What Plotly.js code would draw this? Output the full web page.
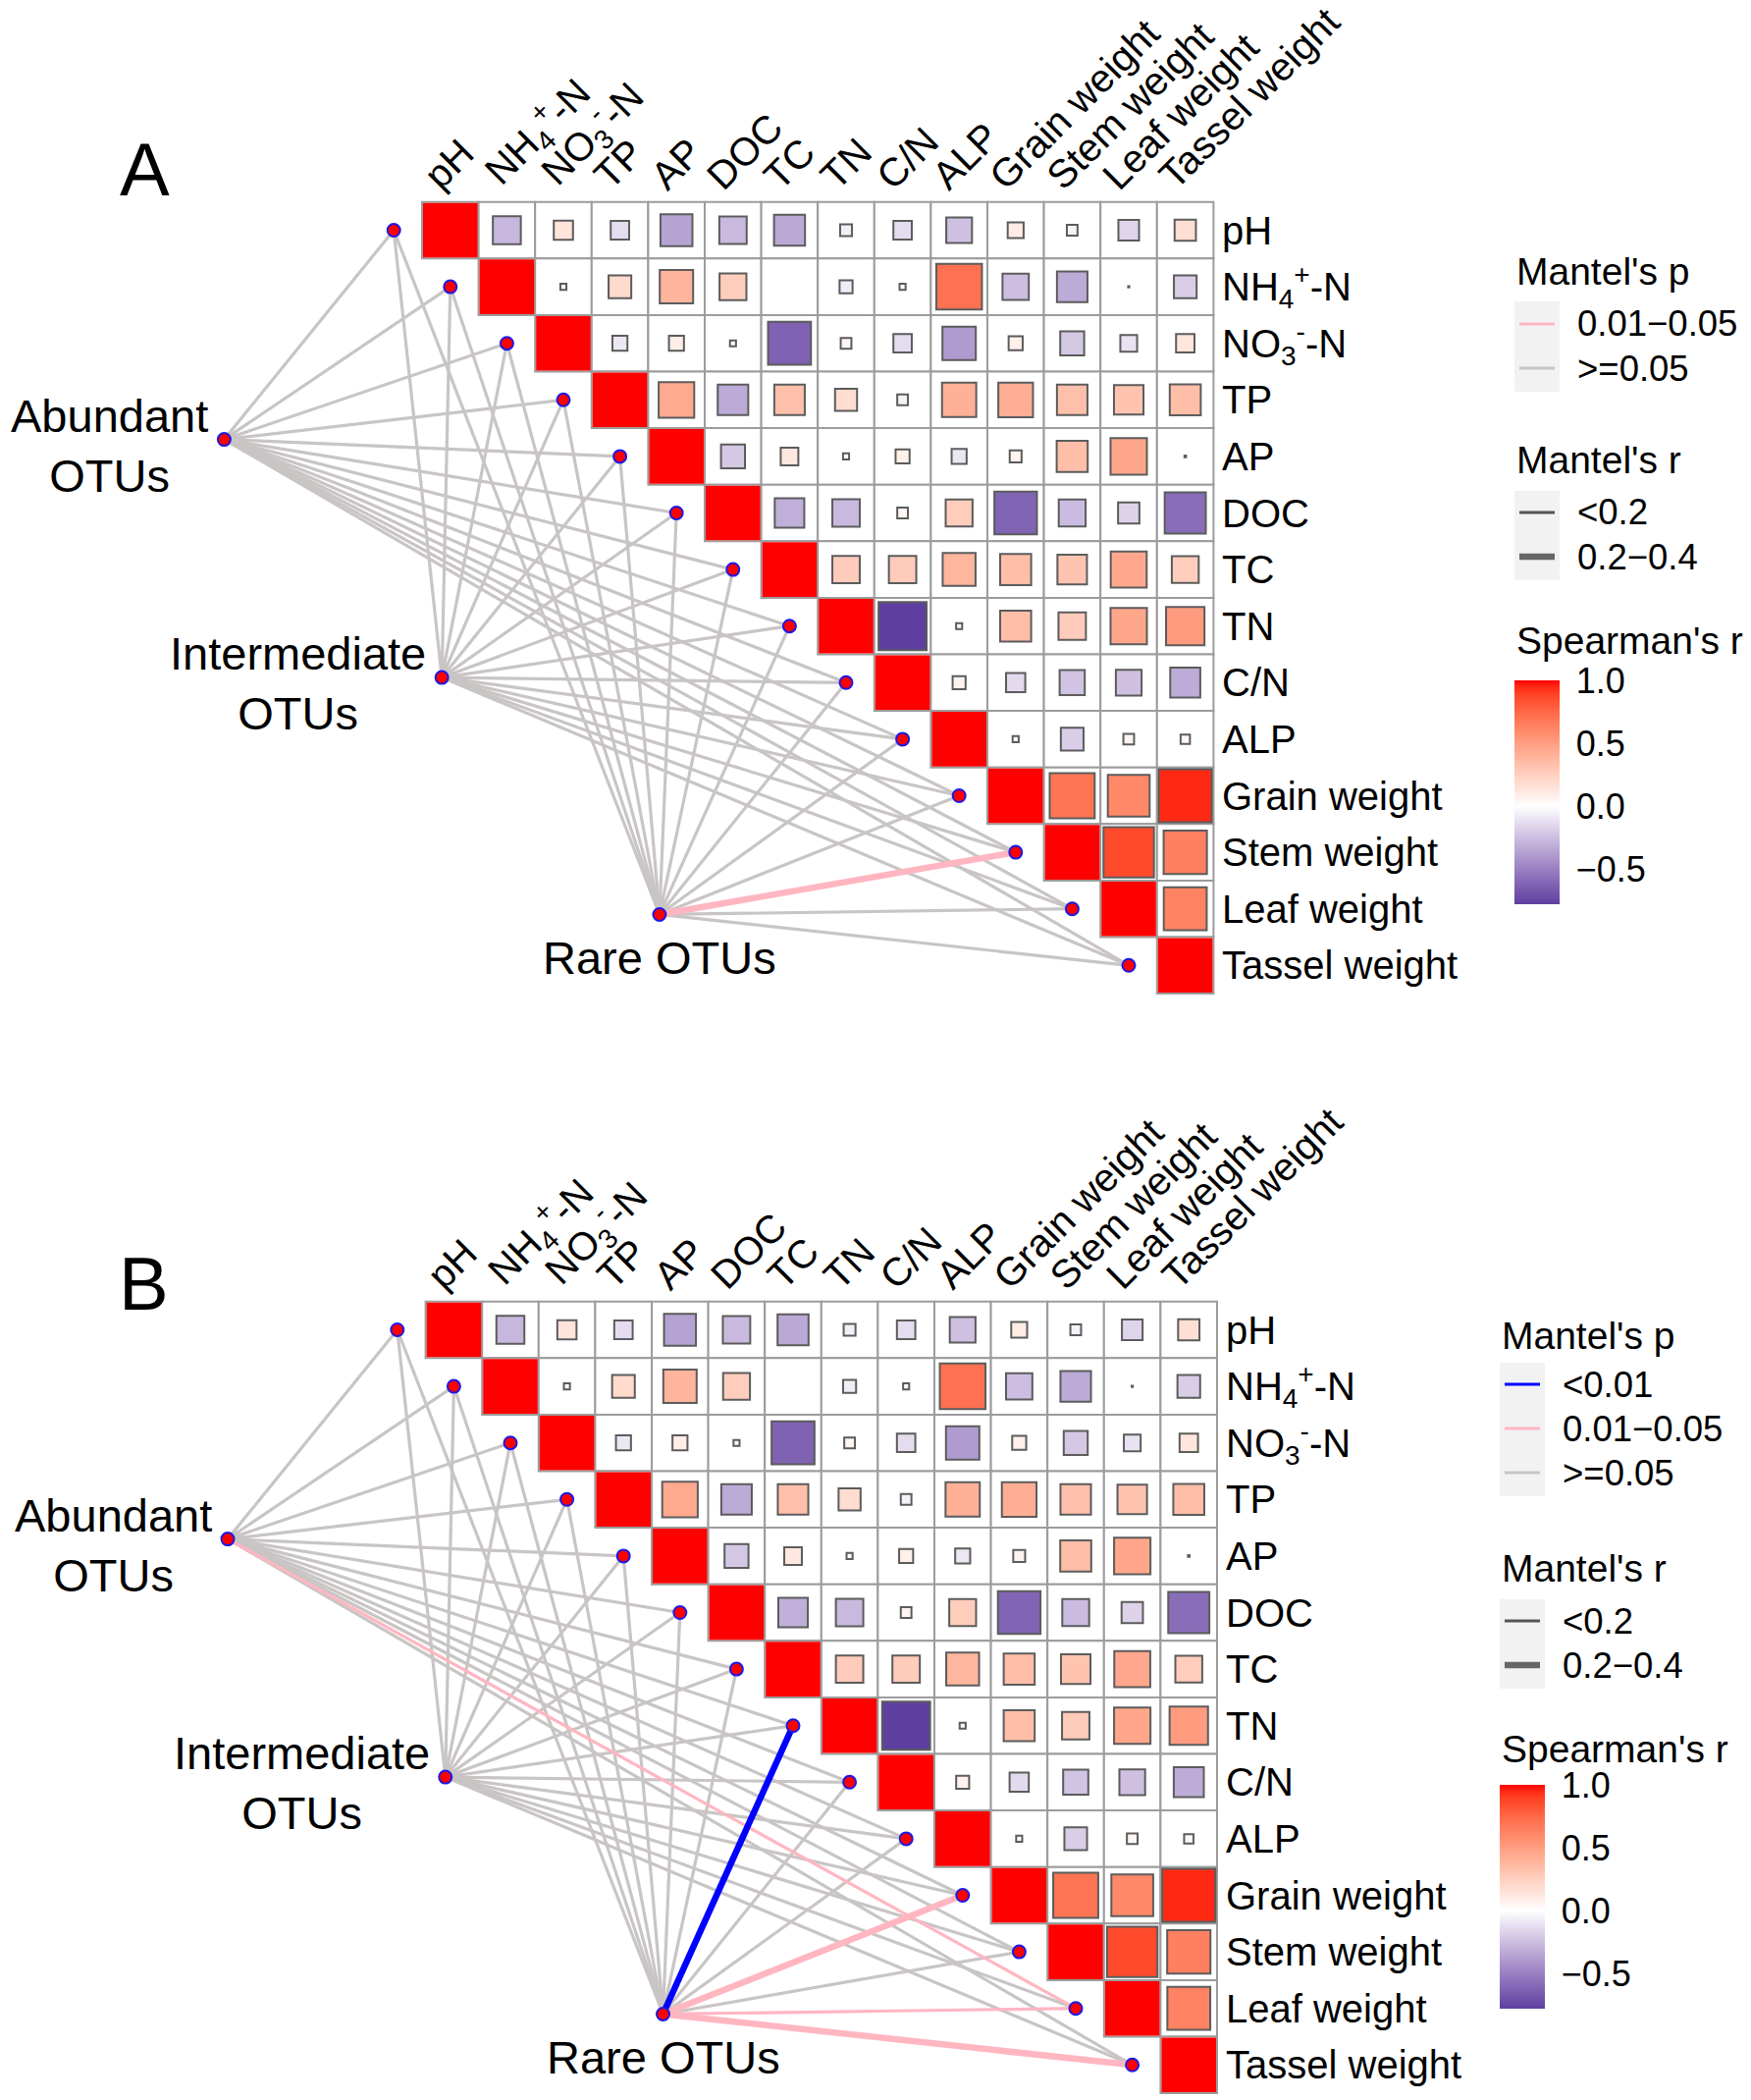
<!DOCTYPE html>
<html><head><meta charset="utf-8">
<script src="https://cdn.plot.ly/plotly-3.0.1.min.js"></script>
<style>html,body{margin:0;padding:0;background:#fff}#chart{width:1784px;height:2139px}</style>
</head><body><div id="chart"></div>
<script>
// ================= DATA =================
const envVars = ['pH','NH4+-N','NO3--N','TP','AP','DOC','TC','TN','C/N','ALP','Grain weight','Stem weight','Leaf weight','Tassel weight'];
const envTickLabels = ['pH','NH<sub>4</sub><sup>+</sup>-N','NO<sub>3</sub><sup>-</sup>-N','TP','AP','DOC','TC','TN','C/N','ALP','Grain weight','Stem weight','Leaf weight','Tassel weight'];
const speciesGroups = ['Abundant<br>OTUs','Intermediate<br>OTUs','Rare OTUs'];
const panelLetters = ['A','B'];

// Spearman's r (upper triangle): each row vs. the variables that follow it
const r_pH     = [-0.28, 0.14, -0.13, -0.36, -0.27, -0.34, -0.06, -0.13, -0.24, 0.10, -0.05, -0.16, 0.17];
const r_NH4    = [0.02, 0.19, 0.39, 0.26, 0.00, -0.07, 0.02, 0.71, -0.25, -0.33, -0.003, -0.19];
const r_NO3    = [-0.09, 0.09, 0.02, -0.63, 0.05, -0.13, -0.39, 0.08, -0.21, -0.11, 0.13];
const r_TP     = [0.44, -0.33, 0.33, 0.18, -0.05, 0.41, 0.42, 0.33, 0.31, 0.34];
const r_AP     = [-0.21, 0.12, 0.02, 0.08, -0.09, 0.06, 0.34, 0.46, 0.004];
const r_DOC    = [-0.31, -0.27, 0.05, 0.26, -0.62, -0.26, -0.17, -0.58];
const r_TC     = [0.27, 0.27, 0.38, 0.34, 0.31, 0.45, 0.26];
const r_TN     = [-0.78, 0.02, 0.34, 0.27, 0.46, 0.51];
const r_CN     = [0.07, -0.14, -0.23, -0.24, -0.32];
const r_ALP    = [0.02, -0.19, 0.05, 0.04];
const r_Grain  = [0.69, 0.60, 0.95];
const r_Stem   = [0.86, 0.64];
const r_Leaf   = [0.63];
const r_Tassel = [];
const spearmanRows = [r_pH, r_NH4, r_NO3, r_TP, r_AP, r_DOC, r_TC, r_TN, r_CN, r_ALP, r_Grain, r_Stem, r_Leaf, r_Tassel];

// Mantel test classes, per OTU group, order = envVars
// Panel A
const mantelP_A_abundant = ['>=0.05','>=0.05','>=0.05','>=0.05','>=0.05','>=0.05','>=0.05','>=0.05','>=0.05','>=0.05','>=0.05','>=0.05','>=0.05','>=0.05'];
const mantelR_A_abundant = ['<0.2','<0.2','<0.2','<0.2','<0.2','<0.2','<0.2','<0.2','<0.2','<0.2','<0.2','<0.2','<0.2','<0.2'];
const mantelP_A_intermediate = ['>=0.05','>=0.05','>=0.05','>=0.05','>=0.05','>=0.05','>=0.05','>=0.05','>=0.05','>=0.05','>=0.05','>=0.05','>=0.05','>=0.05'];
const mantelR_A_intermediate = ['<0.2','<0.2','<0.2','<0.2','<0.2','<0.2','<0.2','<0.2','<0.2','<0.2','<0.2','<0.2','<0.2','<0.2'];
const mantelP_A_rare = ['>=0.05','>=0.05','>=0.05','>=0.05','>=0.05','>=0.05','>=0.05','>=0.05','>=0.05','>=0.05','>=0.05','0.01-0.05','>=0.05','>=0.05'];
const mantelR_A_rare = ['<0.2','<0.2','<0.2','<0.2','<0.2','<0.2','<0.2','<0.2','<0.2','<0.2','<0.2','0.2-0.4','<0.2','<0.2'];
// Panel B
const mantelP_B_abundant = ['>=0.05','>=0.05','>=0.05','>=0.05','>=0.05','>=0.05','>=0.05','>=0.05','>=0.05','>=0.05','>=0.05','>=0.05','0.01-0.05','>=0.05'];
const mantelR_B_abundant = ['<0.2','<0.2','<0.2','<0.2','<0.2','<0.2','<0.2','<0.2','<0.2','<0.2','<0.2','<0.2','<0.2','<0.2'];
const mantelP_B_intermediate = ['>=0.05','>=0.05','>=0.05','>=0.05','>=0.05','>=0.05','>=0.05','>=0.05','>=0.05','>=0.05','>=0.05','>=0.05','>=0.05','>=0.05'];
const mantelR_B_intermediate = ['<0.2','<0.2','<0.2','<0.2','<0.2','<0.2','<0.2','<0.2','<0.2','<0.2','<0.2','<0.2','<0.2','<0.2'];
const mantelP_B_rare = ['>=0.05','>=0.05','>=0.05','>=0.05','>=0.05','>=0.05','>=0.05','<0.01','>=0.05','>=0.05','0.01-0.05','>=0.05','0.01-0.05','0.01-0.05'];
const mantelR_B_rare = ['<0.2','<0.2','<0.2','<0.2','<0.2','<0.2','<0.2','0.2-0.4','<0.2','<0.2','0.2-0.4','<0.2','<0.2','0.2-0.4'];

const pClasses = ['<0.01','0.01-0.05','>=0.05'];
const pClassLabels = ['<0.01','0.01\u22120.05','>=0.05'];
const rClasses = ['<0.2','0.2-0.4'];
const rClassLabels = ['<0.2','0.2\u22120.4'];
const cbTickVals = [-0.5, 0, 0.5, 1];
const cbTickText = ['\u22120.5','0.0','0.5','1.0'];

// ================= STYLE / LAYOUT =================
const W = 1784, H = 2139, CELL = 57.6;
const FONT = 'Liberation Sans, Arial, Helvetica, sans-serif';
const CMIN = -0.78, CMAX = 1;
const LOW = '#5E3FA0', MID = '#FFFFFF', HIGH = '#FF0000';
const pColor = {'<0.01':'#0000FF','0.01-0.05':'#FFB6C1','>=0.05':'#C9C5C5'};
const rWidth = {'<0.2':3.2,'0.2-0.4':6.5};
const rLegendColor = {'<0.2':'#555555','0.2-0.4':'#666666'};
const rLegendWidth = {'<0.2':3,'0.2-0.4':6.5};
const nodePos = [[-4.0, 3.7], [-0.15, 7.91], [3.7, 12.1]];

const panels = [
  {xa:'x', ya:'y', xk:'xaxis', yk:'yaxis', gridLeft:430, gridTop:205.7, dom:[0.5,1],
   P:[mantelP_A_abundant, mantelP_A_intermediate, mantelP_A_rare],
   R:[mantelR_A_abundant, mantelR_A_intermediate, mantelR_A_rare],
   letter:[147,172],
   leg:{x:1543, pTitle:276, pBox:[307,399], pRow0:330, rTitle:468, rBox:[500,591], rRow0:522, sTitle:652, cbTop:693}},
  {xa:'x2', ya:'y2', xk:'xaxis2', yk:'yaxis2', gridLeft:433.6, gridTop:1325.7, dom:[0,0.5],
   P:[mantelP_B_abundant, mantelP_B_intermediate, mantelP_B_rare],
   R:[mantelR_B_abundant, mantelR_B_intermediate, mantelR_B_rare],
   letter:[146,1307],
   leg:{x:1528, pTitle:1360, pBox:[1388,1524], pRow0:1410, rTitle:1597, rBox:[1629,1720], rRow0:1651, sTitle:1781, cbTop:1818}}
];
const ROWSTEP = 45;

// ---------- colour helpers (Lab interpolation like ggplot gradient2) ----------
function hex2rgb(h){h=h.replace('#','');return [0,2,4].map(i=>parseInt(h.substr(i,2),16));}
function lin(c){c/=255;return c<=0.04045?c/12.92:Math.pow((c+0.055)/1.055,2.4);}
function unlin(c){const v=c<=0.0031308?12.92*c:1.055*Math.pow(c,1/2.4)-0.055;return Math.round(Math.max(0,Math.min(1,v))*255);}
function rgb2lab(rgb){
  const [R,G,B]=rgb.map(lin);
  const X=(0.4124*R+0.3576*G+0.1805*B)/0.95047, Y=(0.2126*R+0.7152*G+0.0722*B), Z=(0.0193*R+0.1192*G+0.9505*B)/1.08883;
  const f=t=>t>0.008856?Math.cbrt(t):7.787*t+16/116;
  return [116*f(Y)-16, 500*(f(X)-f(Y)), 200*(f(Y)-f(Z))];
}
function lab2rgb([L,a,b]){
  const fy=(L+16)/116, fx=fy+a/500, fz=fy-b/200;
  const fi=t=>{const t3=t*t*t;return t3>0.008856?t3:(t-16/116)/7.787;};
  const X=0.95047*fi(fx), Y=fi(fy), Z=1.08883*fi(fz);
  const R=3.2406*X-1.5372*Y-0.4986*Z, G=-0.9689*X+1.8758*Y+0.0415*Z, B=0.0557*X-0.2040*Y+1.0570*Z;
  return 'rgb('+unlin(R)+','+unlin(G)+','+unlin(B)+')';
}
function mixLab(c1,c2,t){const a=rgb2lab(hex2rgb(c1)),b=rgb2lab(hex2rgb(c2));return lab2rgb(a.map((v,i)=>v+(b[i]-v)*t));}
function buildScale(){
  const s=[],N=20;
  for(let k=0;k<=N;k++){const t=k/N;const v=CMIN*(1-t);s.push([(v-CMIN)/(CMAX-CMIN),mixLab(LOW,MID,t)]);}
  for(let k=1;k<=N;k++){const t=k/N;const v=CMAX*t;s.push([(v-CMIN)/(CMAX-CMIN),mixLab(MID,HIGH,t)]);}
  s[0][0]=0;s[s.length-1][0]=1;return s;
}
const colorscale = buildScale();
const py = p => 1 - p/H;
const pxx = p => p/W;

// ================= BUILD =================
const n = envVars.length;
const traces = [], shapes = [], annotations = [];
const layout = {width:W, height:H, margin:{l:0,r:0,t:0,b:0}, paper_bgcolor:'#fff', plot_bgcolor:'rgba(0,0,0,0)',
  showlegend:false, font:{family:FONT, color:'#000'}};

panels.forEach((P, pi) => {
  const x0 = -0.5 - P.gridLeft/CELL, x1 = -0.5 + (W - P.gridLeft)/CELL;
  const topPx = (1-P.dom[1])*H, botPx = (1-P.dom[0])*H;
  const yTop = -0.5 - (P.gridTop - topPx)/CELL, yBot = -0.5 + (botPx - P.gridTop)/CELL;
  layout[P.xk] = {domain:[0,1], range:[x0,x1], visible:false, fixedrange:true, anchor:P.ya};
  layout[P.yk] = {domain:P.dom, range:[yBot,yTop], visible:false, fixedrange:true, anchor:P.xa};

  // grid cells (upper triangle incl. diagonal)
  for (let i=0;i<n;i++) for (let j=i;j<n;j++) {
    shapes.push({type:'rect', xref:P.xa, yref:P.ya, x0:j-0.5, x1:j+0.5, y0:i-0.5, y1:i+0.5,
      line:{color:'#9C9C9C', width:2}, fillcolor:'#FFFFFF', layer:'below'});
  }

  // Mantel links
  const groups = {};
  P.P.forEach((pArr, g) => {
    pArr.forEach((pc, e) => {
      const rc = P.R[g][e];
      const key = pc + '|' + rc;
      if (!groups[key]) groups[key] = {p:pc, r:rc, x:[], y:[]};
      groups[key].x.push(nodePos[g][0], e-1, null);
      groups[key].y.push(nodePos[g][1], e, null);
    });
  });
  const order = ['>=0.05','0.01-0.05','<0.01'];
  order.forEach(pc => rClasses.forEach(rc => {
    const G = groups[pc+'|'+rc]; if (!G) return;
    traces.push({type:'scatter', mode:'lines', xaxis:P.xa, yaxis:P.ya, x:G.x, y:G.y,
      line:{color:pColor[pc], width:rWidth[rc]}, hoverinfo:'skip', cliponaxis:false});
  }));

  // correlation squares
  const xs=[],ys=[],cs=[],ss=[],lw=[];
  for (let i=0;i<n;i++) {
    xs.push(i); ys.push(i); cs.push(1); ss.push(CELL-2); lw.push(0);
    spearmanRows[i].forEach((r,k) => {
      const j=i+1+k; xs.push(j); ys.push(i); cs.push(r);
      const s = Math.sqrt(Math.abs(r))*CELL - 2;
      ss.push(Math.max(s,0.3)); lw.push(r===0?0:2);
    });
  }
  traces.push({type:'scatter', mode:'markers', xaxis:P.xa, yaxis:P.ya, x:xs, y:ys, hoverinfo:'skip', cliponaxis:false,
    marker:{symbol:'square', size:ss, opacity:1, color:cs, cmin:CMIN, cmax:CMAX, colorscale:colorscale,
      line:{color:'#5C5C5C', width:lw},
      showscale:true,
      colorbar:{x:pxx(P.leg.x), xanchor:'left', xref:'paper', y:py(P.leg.cbTop), yanchor:'top', yref:'paper',
        len:228, lenmode:'pixels', thickness:46, thicknessmode:'pixels', outlinewidth:0, xpad:0, ypad:0,
        tickvals:cbTickVals, ticktext:cbTickText, ticks:'outside', ticklen:10, tickcolor:'rgba(0,0,0,0)',
        tickfont:{family:FONT, size:36, color:'#000'}}}});

  // points: OTU nodes + environmental anchors
  const nx=[],ny=[];
  nodePos.forEach(p=>{nx.push(p[0]);ny.push(p[1]);});
  envVars.forEach((v,e)=>{nx.push(e-1);ny.push(e);});
  traces.push({type:'scatter', mode:'markers', xaxis:P.xa, yaxis:P.ya, x:nx, y:ny, hoverinfo:'skip', cliponaxis:false,
    marker:{size:13, opacity:1, color:'#FF0000', line:{color:'#1A1AE6', width:2}}});

  // top (rotated) labels
  envTickLabels.forEach((t,j) => annotations.push({xref:P.xa, yref:P.ya, x:j, y:-0.5, text:t, showarrow:false,
    textangle:-45, xanchor:'left', yanchor:'bottom', xshift:-38, yshift:2, font:{size:40, family:FONT}}));
  // right labels
  envTickLabels.forEach((t,i) => annotations.push({xref:P.xa, yref:P.ya, x:n-0.5, y:i, text:t, showarrow:false,
    xanchor:'left', yanchor:'middle', xshift:7, font:{size:40, family:FONT}}));
  // OTU group labels
  speciesGroups.forEach((t,g) => {
    const a = {xref:P.xa, yref:P.ya, x:nodePos[g][0], y:nodePos[g][1], text:t, showarrow:false, align:'center', font:{size:47, family:FONT}};
    if (g < 2) Object.assign(a, {xanchor:'right', yanchor:'middle', xshift:-14, yshift:-6});
    else Object.assign(a, {xanchor:'center', yanchor:'top', yshift:-16});
    annotations.push(a);
  });
  // panel letter
  annotations.push({xref:'paper', yref:'paper', x:pxx(P.letter[0]), y:py(P.letter[1]), text:panelLetters[pi], showarrow:false,
    xanchor:'center', yanchor:'middle', font:{size:76, family:FONT}});

  // ---- legends ----
  const L = P.leg, kx0 = L.x, kx1 = L.x + 46, labX = L.x + 62;
  const presentP = pClasses.filter(c => P.P.some(a => a.includes(c)));
  annotations.push({xref:'paper', yref:'paper', x:pxx(L.x), y:py(L.pTitle), text:"Mantel's p", showarrow:false, xanchor:'left', yanchor:'middle', font:{size:39, family:FONT}});
  shapes.push({type:'rect', xref:'paper', yref:'paper', x0:pxx(kx0), x1:pxx(kx1), y0:py(L.pBox[0]), y1:py(L.pBox[1]), fillcolor:'#F2F2F2', line:{width:0}});
  presentP.forEach((c,k) => {
    const yy = L.pRow0 + k*ROWSTEP;
    shapes.push({type:'line', xref:'paper', yref:'paper', x0:pxx(kx0+5), x1:pxx(kx1-5), y0:py(yy), y1:py(yy), line:{color:pColor[c], width:3}});
    annotations.push({xref:'paper', yref:'paper', x:pxx(labX), y:py(yy), text:pClassLabels[pClasses.indexOf(c)], showarrow:false, xanchor:'left', yanchor:'middle', font:{size:36.5, family:FONT}});
  });
  annotations.push({xref:'paper', yref:'paper', x:pxx(L.x), y:py(L.rTitle), text:"Mantel's r", showarrow:false, xanchor:'left', yanchor:'middle', font:{size:39, family:FONT}});
  shapes.push({type:'rect', xref:'paper', yref:'paper', x0:pxx(kx0), x1:pxx(kx1), y0:py(L.rBox[0]), y1:py(L.rBox[1]), fillcolor:'#F2F2F2', line:{width:0}});
  rClasses.forEach((c,k) => {
    const yy = L.rRow0 + k*ROWSTEP;
    shapes.push({type:'line', xref:'paper', yref:'paper', x0:pxx(kx0+5), x1:pxx(kx1-5), y0:py(yy), y1:py(yy), line:{color:rLegendColor[c], width:rLegendWidth[c]}});
    annotations.push({xref:'paper', yref:'paper', x:pxx(labX), y:py(yy), text:rClassLabels[k], showarrow:false, xanchor:'left', yanchor:'middle', font:{size:36.5, family:FONT}});
  });
  annotations.push({xref:'paper', yref:'paper', x:pxx(L.x), y:py(L.sTitle), text:"Spearman's r", showarrow:false, xanchor:'left', yanchor:'middle', font:{size:39, family:FONT}});
});

layout.shapes = shapes;
layout.annotations = annotations;
Plotly.newPlot('chart', traces, layout, {staticPlot:true, displayModeBar:false});
</script></body></html>
